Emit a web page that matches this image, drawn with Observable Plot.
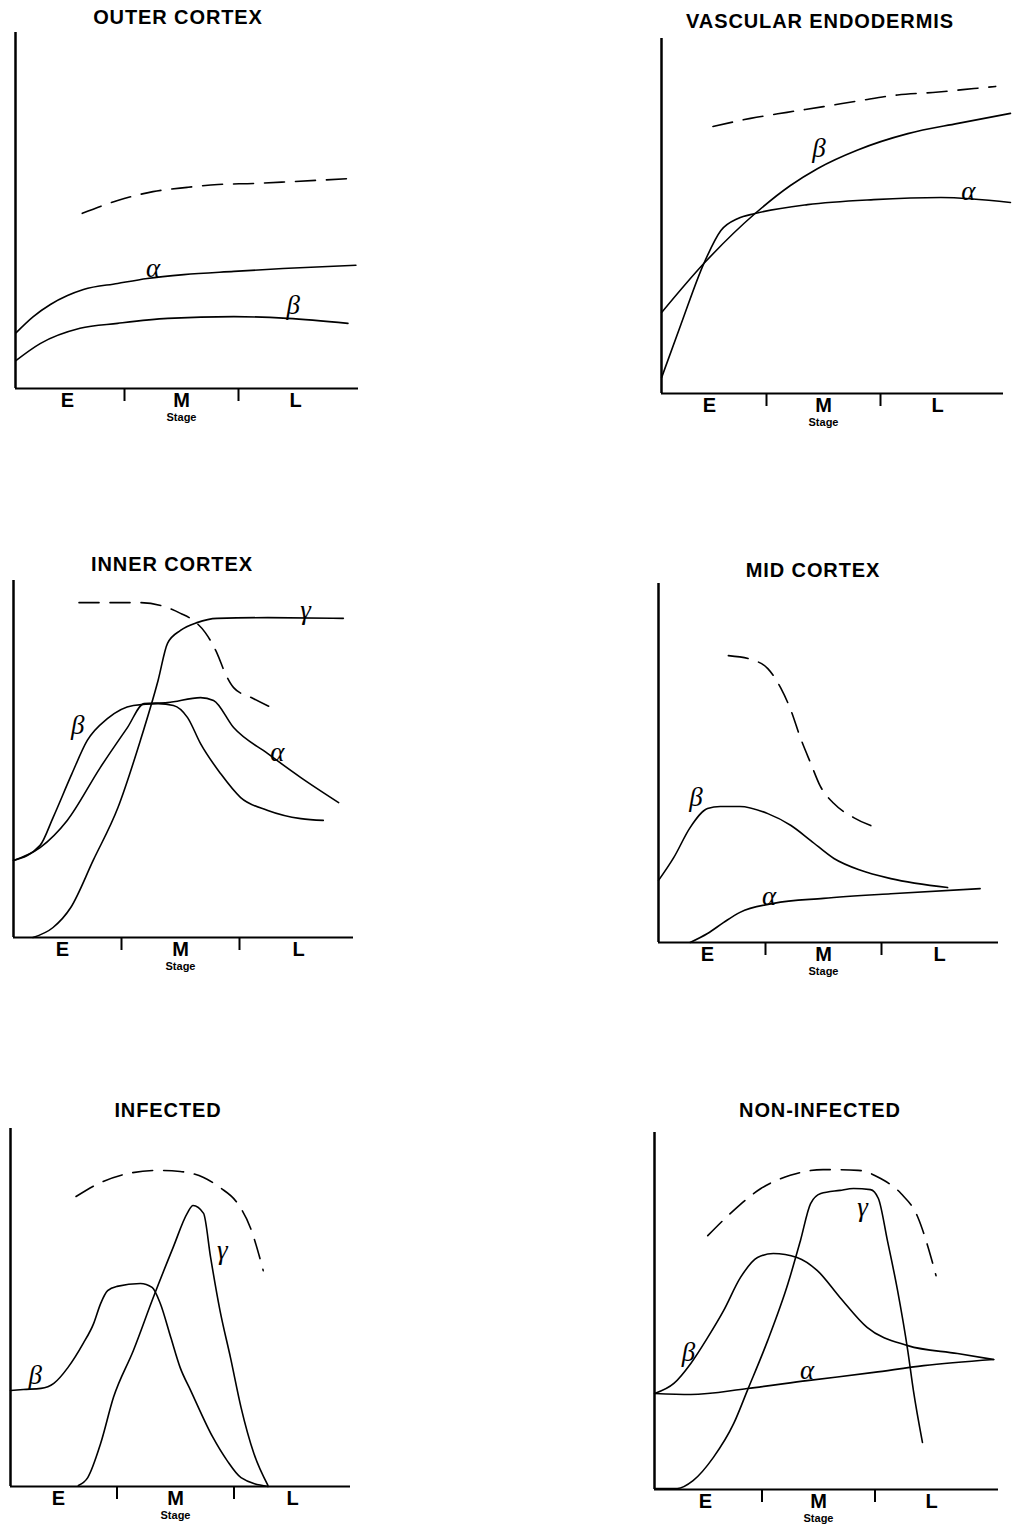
<!DOCTYPE html>
<html><head><meta charset="utf-8">
<script src="https://cdn.jsdelivr.net/npm/d3@7"></script>
<script src="https://cdn.jsdelivr.net/npm/@observablehq/plot@0.6"></script>
<style>
body{margin:0;background:#fff;}
#page{position:relative;width:1016px;height:1528px;background:#fff;overflow:hidden;font-family:"Liberation Sans",Arial,sans-serif;}
.title{position:absolute;transform:translate(-50%,-50%);font-weight:bold;font-size:20px;letter-spacing:0.9px;white-space:nowrap;color:#000;}
.panel{position:absolute;}
</style></head><body><div id="page"></div>
<script>
// ---- tick labels ----
const stageLabels = ["E", "M", "L"];
const stageTicks = [1, 2, 3];
const minorTicks = [1.5, 2.5];
const axisTitle = "Stage";
const titles = ["OUTER CORTEX", "VASCULAR ENDODERMIS", "INNER CORTEX", "MID CORTEX", "INFECTED", "NON-INFECTED"];

// ---- values: [stage, relative level 0-100] ----
// OUTER CORTEX
const outerDashed = [[1.13,49.2],[1.44,52.8],[1.75,55.3],[2.05,56.5],[2.32,57.3],[2.63,57.6],[2.96,58.1],[3.50,59.0]];
const outerAlpha = [[0.55,15.7],[0.70,20.2],[0.85,23.6],[1.0,26.1],[1.14,27.8],[1.44,29.5],[1.70,30.9],[2.02,32.0],[2.46,32.9],[2.89,33.7],[3.53,34.6]];
const outerBeta = [[0.55,7.9],[0.76,12.6],[1.11,16.9],[1.44,18.3],[1.88,19.7],[2.46,20.2],[2.93,19.7],[3.46,18.3]];
const outerLabels = [{t:"α",x:1.75,y:33.8},{t:"β",x:2.98,y:23.3}];

// VASCULAR ENDODERMIS
const vascDashed = [[1.03,75.2],[1.36,77.5],[1.68,79.2],[2.0,80.8],[2.32,82.5],[2.65,84.1],[2.96,84.8],[3.32,85.9],[3.51,86.5]];
const vascBeta = [[0.58,22.8],[0.95,36.6],[1.40,50.7],[1.71,58.6],[1.95,63.4],[2.30,68.6],[2.74,73.2],[3.18,76.1],[3.64,78.9]];
const vascAlpha = [[0.58,4.5],[0.75,19.5],[0.95,36.6],[1.10,45.9],[1.25,49.3],[1.40,50.7],[1.86,53.2],[2.44,54.6],[3.03,55.2],[3.64,53.8]];
const vascLabels = [{t:"β",x:1.96,y:69.0},{t:"α",x:3.27,y:57.0}];

// INNER CORTEX
const innerDashed = [[1.14,93.8],[1.66,93.8],[1.89,92.4],[2.0,90.8],[2.11,88.8],[2.21,85.4],[2.31,79.6],[2.38,73.9],[2.45,70.0],[2.62,66.9],[2.79,64.1]];
const innerGamma = [[0.75,0],[0.92,2.8],[1.07,8.4],[1.26,21.6],[1.47,36.4],[1.66,55.2],[1.81,72.0],[1.89,82.4],[2.0,86.0],[2.14,88.2],[2.31,89.4],[2.74,89.6],[3.38,89.4]];
const innerBeta = [[0.585,21.6],[0.81,25.8],[0.92,33.6],[1.08,45.9],[1.21,55.2],[1.38,61.3],[1.60,65.0],[1.81,65.5],[1.94,65.0],[2.06,61.6],[2.17,54.3],[2.34,45.9],[2.51,39.2],[2.74,35.6],[3.02,33.3],[3.21,32.8]];
const innerAlpha = [[0.585,21.6],[0.81,25.2],[1.04,32.8],[1.32,47.6],[1.55,58.8],[1.69,65.5],[1.89,65.8],[2.17,67.2],[2.28,66.4],[2.45,58.8],[2.74,51.5],[3.02,44.8],[3.34,37.8]];
const innerLabels = [{t:"γ",x:3.06,y:91.6},{t:"β",x:1.13,y:59.4},{t:"α",x:2.82,y:51.8}];

// MID CORTEX
const midDashed = [[1.18,79.9],[1.40,78.6],[1.52,76.3],[1.63,71.0],[1.72,64.6],[1.80,57.1],[1.89,49.9],[1.97,43.7],[2.09,38.7],[2.26,34.8],[2.47,31.8]];
const midBeta = [[0.578,17.3],[0.71,23.7],[0.85,32.0],[1.0,37.3],[1.11,37.9],[1.28,37.9],[1.52,35.9],[1.72,32.6],[1.89,28.4],[2.09,23.4],[2.32,20.1],[2.58,17.8],[3.07,15.3]];
const midAlpha = [[0.85,0],[1.0,2.5],[1.14,5.6],[1.28,8.4],[1.57,10.9],[2.0,12.3],[2.58,13.6],[3.35,15.0]];
const midLabels = [{t:"β",x:0.90,y:40.5},{t:"α",x:1.53,y:12.8}];

// INFECTED
const infDashed = [[1.15,81.0],[1.36,84.9],[1.59,87.4],[1.85,88.3],[2.04,88.0],[2.24,86.3],[2.38,83.5],[2.53,79.1],[2.64,72.3],[2.75,60.3]];
const infBeta = [[0.59,26.8],[0.70,27.1],[0.85,27.4],[0.96,28.8],[1.08,33.2],[1.21,39.9],[1.30,45.5],[1.36,51.1],[1.42,54.7],[1.50,55.9],[1.70,56.7],[1.80,55.6],[1.87,51.1],[1.96,41.6],[2.04,33.2],[2.13,26.8],[2.32,13.7],[2.44,7.3],[2.56,2.5],[2.79,0]];
const infGamma = [[1.17,0.3],[1.25,2.5],[1.36,12.0],[1.47,24.9],[1.64,38.0],[1.81,52.8],[1.98,66.8],[2.10,76.3],[2.15,78.5],[2.24,76.3],[2.30,64.0],[2.38,49.2],[2.47,36.0],[2.56,22.1],[2.67,9.2],[2.79,0.3]];
const infLabels = [{t:"β",x:0.80,y:31.0},{t:"γ",x:2.40,y:66.0}];

// NON-INFECTED
const nonDashed = [[1.02,71.1],[1.25,78.2],[1.49,84.3],[1.75,88.0],[2.04,89.6],[2.35,89.4],[2.55,87.1],[2.73,82.9],[2.88,76.2],[2.96,68.9],[3.04,59.9]];
const nonBeta = [[0.55,26.9],[0.72,29.7],[0.87,35.3],[1.02,42.6],[1.16,50.1],[1.31,59.4],[1.46,65.0],[1.60,66.1],[1.81,65.0],[1.99,61.3],[2.19,53.8],[2.43,45.4],[2.79,40.3],[3.23,38.1],[3.55,36.4]];
const nonAlpha = [[0.55,26.9],[0.87,26.6],[1.37,28.3],[1.90,30.5],[2.49,32.8],[2.93,34.7],[3.55,36.4]];
const nonGamma = [[0.55,0.3],[0.75,0.3],[0.89,2.5],[1.07,9.0],[1.25,18.5],[1.37,27.7],[1.55,41.7],[1.73,57.7],[1.84,69.7],[1.93,80.1],[2.02,82.9],[2.19,83.8],[2.31,84.3],[2.46,84.0],[2.53,81.5],[2.61,69.7],[2.70,55.7],[2.79,38.9],[2.84,27.7],[2.92,13.2]];
const nonLabels = [{t:"β",x:0.85,y:38.4},{t:"α",x:1.90,y:33.5},{t:"γ",x:2.39,y:79.0}];

// ---- layout (pixels) ----
const layout = [
  {left:15, right:358, top:32, bottom:388, xE:67, step:114, tx:178, ty:17},
  {left:661, right:1003, top:38, bottom:393, xE:709, step:114, tx:820, ty:21},
  {left:13, right:353, top:580, bottom:937, xE:62, step:118, tx:172, ty:564},
  {left:658, right:998, top:583, bottom:942, xE:707, step:116, tx:813, ty:570},
  {left:10, right:350, top:1128, bottom:1486, xE:58, step:117, tx:168, ty:1110},
  {left:654, right:998, top:1132, bottom:1489, xE:705, step:113, tx:820, ty:1110}
];
const panelSeries = [
  {dashed: outerDashed, lines: [outerAlpha, outerBeta], labels: outerLabels},
  {dashed: vascDashed, lines: [vascBeta, vascAlpha], labels: vascLabels},
  {dashed: innerDashed, lines: [innerGamma, innerBeta, innerAlpha], labels: innerLabels},
  {dashed: midDashed, lines: [midBeta, midAlpha], labels: midLabels},
  {dashed: infDashed, lines: [infBeta, infGamma], labels: infLabels},
  {dashed: nonDashed, lines: [nonBeta, nonAlpha, nonGamma], labels: nonLabels}
];

const page = document.getElementById("page");
const font = "'Liberation Sans', Arial, sans-serif";

layout.forEach((L, i) => {
  const S = panelSeries[i];
  const mL = 20, mR = 25, mT = 8, mB = 45;
  const x0 = 1 + (L.left - L.xE) / L.step;
  const x1 = 1 + (L.right - L.xE) / L.step;
  const lineOpts = {x: d => d[0], y: d => d[1], curve: "monotone-x", stroke: "#000", strokeWidth: 1.6};
  const chart = Plot.plot({
    width: L.right - L.left + mL + mR,
    height: L.bottom - L.top + mT + mB,
    marginLeft: mL, marginRight: mR, marginTop: mT, marginBottom: mB,
    x: {domain: [x0, x1]},
    y: {domain: [0, 100], axis: null},
    style: {fontFamily: font, background: "transparent", overflow: "visible", color: "#000"},
    marks: [
      Plot.ruleY([0], {strokeWidth: 2}),
      Plot.ruleX([x0], {strokeWidth: 2.5}),
      Plot.axisX({ticks: minorTicks, tickSize: 13, tickFormat: () => "", strokeWidth: 2, label: null}),
      Plot.axisX({ticks: stageTicks, tickSize: 0, tickPadding: 4, tickFormat: d => stageLabels[stageTicks.indexOf(d)], fontSize: 20, fontWeight: "bold", label: null}),
      Plot.text([{x: 2, t: axisTitle}], {x: "x", text: "t", frameAnchor: "bottom", dy: 32, fontSize: 11, fontWeight: "bold"}),
      Plot.line(S.dashed, {...lineOpts, strokeDasharray: "20,11"}),
      ...S.lines.map(s => Plot.line(s, lineOpts)),
      Plot.text(S.labels, {x: "x", y: "y", text: "t", fontSize: 27, fontStyle: "italic", fontFamily: "'Liberation Serif', 'DejaVu Serif', serif"})
    ]
  });
  chart.classList.add("panel");
  chart.style.left = (L.left - mL) + "px";
  chart.style.top = (L.top - mT) + "px";
  page.appendChild(chart);

  const t = document.createElement("div");
  t.className = "title";
  t.textContent = titles[i];
  t.style.left = L.tx + "px";
  t.style.top = L.ty + "px";
  page.appendChild(t);
});
</script></body></html>
